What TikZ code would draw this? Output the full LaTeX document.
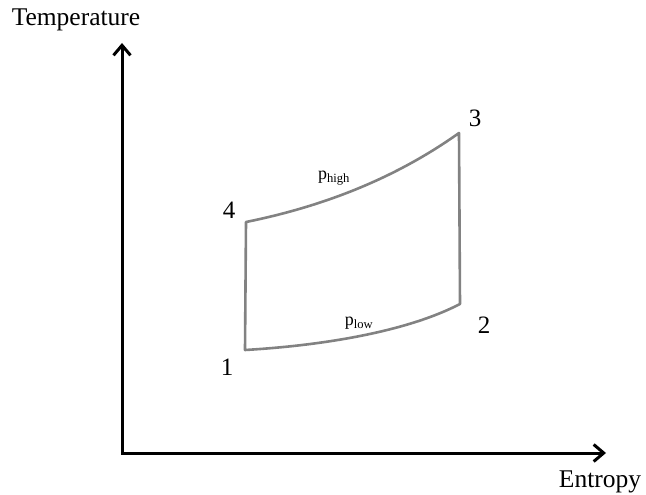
\documentclass[tikz,border=0pt]{standalone}
\usepackage{fontspec}
\setmainfont{Liberation Serif}
\usetikzlibrary{arrows.meta, positioning}
\definecolor{cCycle}{RGB}{130,130,130}
\tikzset{
	axis/.style ={{Straight Barb[length=10pt, width=17pt]}-{Straight Barb[length=10pt, width=17pt]}, line width=3pt, black},
	cyc/.style  ={line width=2.6pt, draw=cCycle, line join=round},
	axlab/.style={font=\fontsize{25.5}{30}\selectfont, inner sep=0pt},
	state/.style={font=\fontsize{25}{30}\selectfont, inner sep=0pt},
	plab/.style ={font=\fontsize{18}{21}\selectfont, inner sep=0pt},
}
\begin{document}
\begin{tikzpicture}[x=1pt, y=-1pt]
	\useasboundingbox (0,0) rectangle (646,495);
	% axes
	\coordinate (o) at (122,453);
	\coordinate (ytop) at (122,43);
	\coordinate (xend) at (606,453);
	\draw[axis] (ytop) -- (o) -- (xend);
	\node[axlab] (tlab) at (76,20) {Temperature};
	\node[axlab] (slab) at (600,482) {Entropy};
	% cycle states
	\coordinate (s1) at (245,350);
	\coordinate (s2) at (460,304);
	\coordinate (s3) at (459,133);
	\coordinate (s4) at (246,222);
	\node[state] (n1) at (227,367) {1};
	\node[state] (n2) at (484,325) {2};
	\node[state] (n3) at (475,118) {3};
	\node[state] (n4) at (229,210) {4};
	\draw[cyc] (s1) .. controls (330,345) and (410,330) .. (s2) -- (s3)
		.. controls (400,175) and (330,205) .. (s4) -- cycle;
	\node[plab] (ph) at (334,178) {p\textsubscript{high}};
	\node[plab] (pl) at (359,323) {p\textsubscript{low}};
\end{tikzpicture}
\end{document}
